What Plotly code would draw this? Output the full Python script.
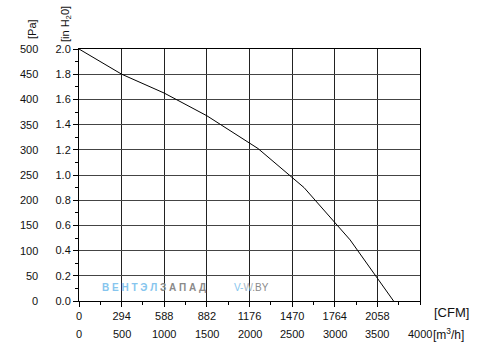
import plotly.graph_objects as go

# Data
flow_m3h = [0, 500, 1000, 1500, 2100, 2640, 3180, 3690]
pressure_inh2o = [2.0, 1.8, 1.65, 1.47, 1.21, 0.90, 0.485, 0.0]

m3h_ticks = [0, 500, 1000, 1500, 2000, 2500, 3000, 3500, 4000]
cfm_ticks = [0, 500, 1000, 1500, 2000, 2500, 3000, 3500]
cfm_labels = ["0", "294", "588", "882", "1176", "1470", "1764", "2058"]
pa_labels = [0, 50, 100, 150, 200, 250, 300, 350, 400, 450, 500]
PA_PER_INH2O = 250

FONT = "Liberation Sans, Arial, sans-serif"
TXT = "#111111"

fig = go.Figure()
fig.add_trace(go.Scatter(
    x=flow_m3h, y=pressure_inh2o, mode="lines",
    line=dict(color="#000000", width=1), hoverinfo="skip", showlegend=False,
))

fig.update_layout(
    width=483, height=351,
    margin=dict(l=79, r=63, t=49, b=50),
    paper_bgcolor="white", plot_bgcolor="white",
    font=dict(family=FONT, size=11, color=TXT),
    xaxis=dict(
        range=[0, 4000], tickvals=cfm_ticks, ticktext=cfm_labels,
        showgrid=True, gridcolor="#222222", gridwidth=1,
        showline=True, linecolor="#000000", linewidth=1, mirror=True,
        ticks="outside", ticklen=5, tickcolor="#000000",
        minor=dict(dtick=250, tick0=0, ticks="outside", ticklen=3, tickcolor="#000000", showgrid=False),
        zeroline=False, tickfont=dict(size=11, color=TXT),
    ),
    yaxis=dict(
        range=[0, 2.0], dtick=0.2, tick0=0, tickformat=".1f",
        showgrid=True, gridcolor="#444444", gridwidth=1,
        showline=True, linecolor="#000000", linewidth=1, mirror=True,
        ticks="outside", ticklen=5, tickcolor="#000000",
        minor=dict(dtick=0.1, tick0=0, ticks="outside", ticklen=3, tickcolor="#000000", showgrid=False),
        zeroline=False, tickfont=dict(size=11, color=TXT),
    ),
)

ann = []
# m3/h row
for v in m3h_ticks:
    ann.append(dict(x=v, xref="x", y=0, yref="paper", text=str(v), showarrow=False,
                    xanchor="center", yanchor="middle", yshift=-33,
                    font=dict(size=11, color=TXT, family=FONT)))
ann.append(dict(x=4000, xref="x", y=0, yref="paper", text="[m<sup>3</sup>/h]", showarrow=False,
                xanchor="left", yanchor="middle", yshift=-33, xshift=11,
                font=dict(size=12, color=TXT, family=FONT)))
ann.append(dict(x=4000, xref="x", y=0, yref="paper", text="[CFM]", showarrow=False,
                xanchor="left", yanchor="middle", yshift=-11, xshift=12,
                font=dict(size=13, color=TXT, family=FONT)))
# Pa column
for p in pa_labels:
    ann.append(dict(x=0, xref="paper", y=p / PA_PER_INH2O, yref="y", text=str(p), showarrow=False,
                    xanchor="right", yanchor="middle", xshift=-39,
                    font=dict(size=11, color=TXT, family=FONT)))
# axis titles
ann.append(dict(x=0, xref="paper", y=1, yref="paper", text="[Pa]", showarrow=False,
                textangle=-90, xanchor="center", yanchor="bottom", xshift=-47, yshift=8,
                font=dict(size=11, color=TXT, family=FONT)))
ann.append(dict(x=0, xref="paper", y=1, yref="paper", text="[in H<sub>2</sub>0]", showarrow=False,
                textangle=-90, xanchor="center", yanchor="bottom", xshift=-13, yshift=5,
                font=dict(size=11, color=TXT, family=FONT)))
# watermark
ann.append(dict(x=0, xref="paper", y=0, yref="paper",
                text="<b><span style='color:#86c5ee'>В Е Н Т Э Л </span>З А П А Д</b>",
                showarrow=False, xanchor="left", yanchor="middle", xshift=21, yshift=14,
                font=dict(size=10, color="#8a8a8a", family=FONT)))
ann.append(dict(x=0, xref="paper", y=0, yref="paper",
                text="<span style='color:#86c5ee'>V-</span><span style='color:#a9b8c6'>W</span>.BY",
                showarrow=False, xanchor="left", yanchor="middle", xshift=153, yshift=14,
                font=dict(size=10, color="#8a8a8a", family=FONT)))
fig.update_layout(annotations=ann)

fig.write_html("out.html")
